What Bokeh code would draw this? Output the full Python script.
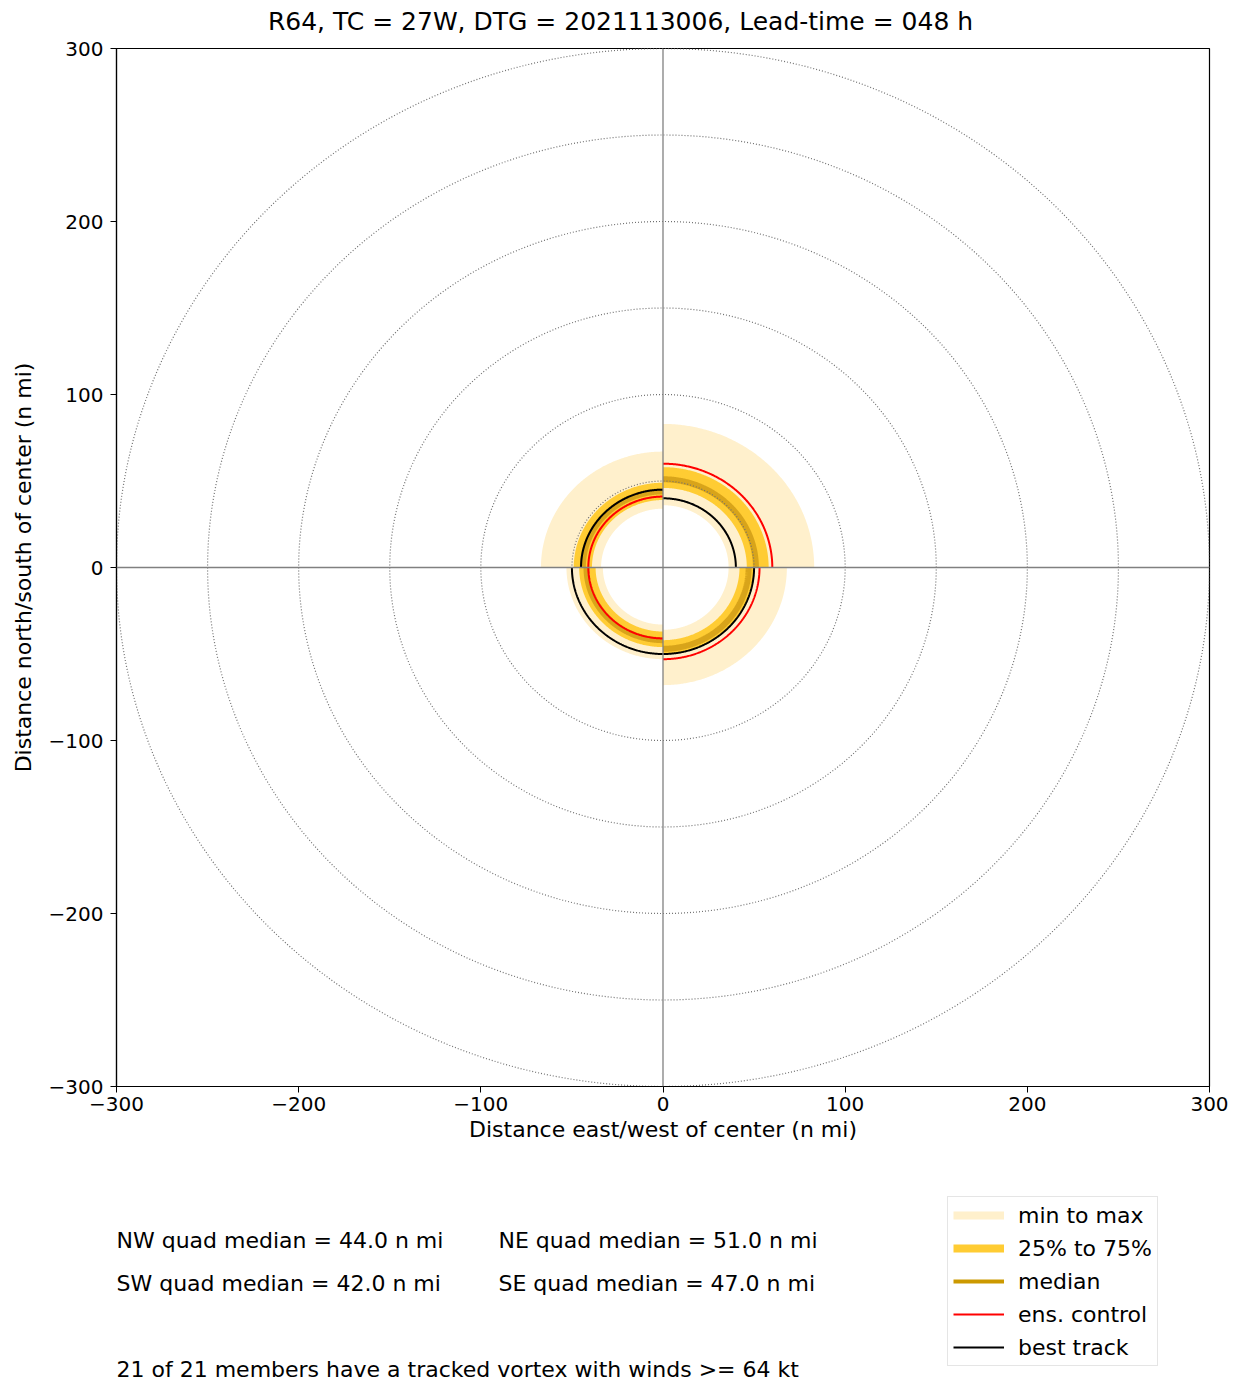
import numpy as np
from bokeh.plotting import figure
from bokeh.layouts import column
from bokeh.models import Range1d, FixedTicker, Span, Label, Legend, LegendItem
from bokeh.embed import file_html
from bokeh.resources import INLINE

# ---- data ----
quadrants = ["NE", "NW", "SW", "SE"]
quad_start_deg = [0, 90, 180, 270]
r_min = [36, 34, 33, 36]
r_max = [83, 67, 53, 68]
r_p25 = [46, 39, 37, 42]
r_p75 = [58, 49, 46, 50]
r_median = [51.0, 44.0, 42.0, 47.0]
r_control = [60, 41, 41, 53]
r_best = [40, 45, 50, 50]
grid_radii = [50, 100, 150, 200, 250, 300]
ticks = [-300, -200, -100, 0, 100, 200, 300]
members_tracked = 21
members_total = 21
wind_threshold = 64
title_text = "R64, TC = 27W, DTG = 2021113006, Lead-time = 048 h"

FONT = "DejaVu Sans"
C_MINMAX = "#FFF0CC"
C_IQR = "#FFCC33"
C_MED = "#D4A017"
C_MED_LEG = "#CC9900"

W = 1231
FRAME_L, FRAME_R, FRAME_T, FRAME_B = 116, 1209, 48, 1086   # page pixels
H_TOP = 36
H_MAIN = 1158 - H_TOP
H_BOT = 1382 - 1158


def arc(r, a0_deg, span=90.0, n=181):
    th = np.radians(np.linspace(a0_deg, a0_deg + span, n))
    return list(r * np.cos(th)), list(r * np.sin(th))


def annulus(r0, r1, a0_deg):
    xo, yo = arc(r1, a0_deg)
    xi, yi = arc(r0, a0_deg)
    return xo + xi[::-1], yo + yi[::-1]


def blank(height):
    # frame is aligned with the main frame by the column layout: use page x as data x
    f = figure(width=W, height=height, x_range=Range1d(FRAME_L, FRAME_R), y_range=Range1d(0, height),
               output_backend="svg", toolbar_location=None,
               x_axis_location=None, y_axis_location=None,
               min_border_left=FRAME_L, min_border_right=W - FRAME_R,
               min_border_top=0, min_border_bottom=0)
    f.grid.visible = False
    f.outline_line_color = None
    f.background_fill_color = "white"
    f.border_fill_color = "white"
    return f


# ---- title strip ----
top = blank(H_TOP)
top.add_layout(Label(x=620, y=H_TOP - 21, text=title_text,
                     text_align="center", text_baseline="middle", text_font=FONT,
                     text_font_size="25px", text_color="black"))

# ---- main plot ----
p = figure(width=W, height=H_MAIN,
           x_range=Range1d(-300, 300), y_range=Range1d(-300, 300),
           output_backend="svg", toolbar_location=None,
           min_border_left=FRAME_L, min_border_right=W - FRAME_R,
           min_border_top=FRAME_T - H_TOP, min_border_bottom=H_TOP + H_MAIN - FRAME_B)
p.grid.visible = False
p.outline_line_color = "black"
p.outline_line_width = 1.2
p.background_fill_color = "white"
p.border_fill_color = "white"

xs, ys = [], []
for a0, r0, r1 in zip(quad_start_deg, r_min, r_max):
    x, y = annulus(r0, r1, a0)
    xs.append(x); ys.append(y)
p.patches(xs, ys, fill_color=C_MINMAX, line_color=None)

xs, ys = [], []
for a0, r0, r1 in zip(quad_start_deg, r_p25, r_p75):
    x, y = annulus(r0, r1, a0)
    xs.append(x); ys.append(y)
p.patches(xs, ys, fill_color=C_IQR, line_color=None)

xs, ys = [], []
for a0, r in zip(quad_start_deg, r_median):
    x, y = arc(r, a0)
    xs.append(x); ys.append(y)
p.multi_line(xs, ys, line_color=C_MED, line_width=6, line_alpha=0.9)

xs, ys = [], []
for r in grid_radii:
    x, y = arc(r, 0, 360, 721)
    xs.append(x); ys.append(y)
p.multi_line(xs, ys, line_color="#707070", line_width=1.2, line_dash="1 2")

p.add_layout(Span(location=0, dimension="height", line_color="#808080", line_width=1.3))
p.add_layout(Span(location=0, dimension="width", line_color="#808080", line_width=1.3))

xs, ys = [], []
for a0, r in zip(quad_start_deg, r_control):
    x, y = arc(r, a0)
    xs.append(x); ys.append(y)
p.multi_line(xs, ys, line_color="red", line_width=2)

xs, ys = [], []
for a0, r in zip(quad_start_deg, r_best):
    x, y = arc(r, a0)
    xs.append(x); ys.append(y)
p.multi_line(xs, ys, line_color="black", line_width=2)

for ax in (p.xaxis[0], p.yaxis[0]):
    ax.ticker = FixedTicker(ticks=ticks)
    ax.major_label_overrides = {float(t): (str(t).replace("-", "\u2212")) for t in ticks}
    ax.major_tick_in = 0
    ax.major_tick_out = 6
    ax.major_tick_line_color = "black"
    ax.minor_tick_line_color = None
    ax.axis_line_color = "black"
    ax.axis_line_width = 1.2
    ax.major_label_text_font = FONT
    ax.major_label_text_font_size = "20px"
    ax.major_label_text_color = "black"
    ax.axis_label_text_font = FONT
    ax.axis_label_text_font_size = "22px"
    ax.axis_label_text_font_style = "normal"
    ax.axis_label_text_color = "black"

p.xaxis.axis_label = "Distance east/west of center (n mi)"
p.yaxis.axis_label = "Distance north/south of center (n mi)"
p.xaxis.major_label_standoff = 4
p.xaxis.axis_label_standoff = 3
p.yaxis.major_label_standoff = 7
p.yaxis.axis_label_standoff = 10

# ---- bottom strip: texts + legend ----
bot = blank(H_BOT)
page_bottom = H_TOP + H_MAIN + H_BOT  # page y of the strip's bottom edge


def by(py):
    return page_bottom - py


texts = [
    (116, 1240, f"NW quad median = {r_median[1]:.1f} n mi"),
    (498, 1240, f"NE quad median = {r_median[0]:.1f} n mi"),
    (116, 1283, f"SW quad median = {r_median[2]:.1f} n mi"),
    (498, 1283, f"SE quad median = {r_median[3]:.1f} n mi"),
    (116, 1369, f"{members_tracked} of {members_total} members have a tracked vortex with winds >= {wind_threshold} kt"),
]
for x, y, t in texts:
    bot.add_layout(Label(x=x, y=by(y), text=t,
                         text_align="left", text_baseline="middle", text_font=FONT,
                         text_font_size="22px", text_color="black"))

nan = [float("nan")]
l1 = bot.line(nan, nan, line_color=C_MINMAX, line_width=8)
l2 = bot.line(nan, nan, line_color=C_IQR, line_width=8)
l3 = bot.line(nan, nan, line_color=C_MED_LEG, line_width=4)
l4 = bot.line(nan, nan, line_color="red", line_width=2)
l5 = bot.line(nan, nan, line_color="black", line_width=2)
legend = Legend(items=[
    LegendItem(label="min to max", renderers=[l1]),
    LegendItem(label="25% to 75%", renderers=[l2]),
    LegendItem(label="median", renderers=[l3]),
    LegendItem(label="ens. control", renderers=[l4]),
    LegendItem(label="best track", renderers=[l5]),
], location=(947 - FRAME_L, by(1366)), margin=0, padding=5, spacing=7,
    glyph_width=51, glyph_height=26, label_height=26, label_standoff=14,
    label_text_font=FONT, label_text_font_size="22px", label_text_color="black",
    border_line_color="#cccccc", border_line_width=1.2,
    background_fill_color="white", background_fill_alpha=1.0)
bot.add_layout(legend)

layout = column(top, p, bot, spacing=0)
open("out.html", "w").write(file_html(layout, INLINE))
